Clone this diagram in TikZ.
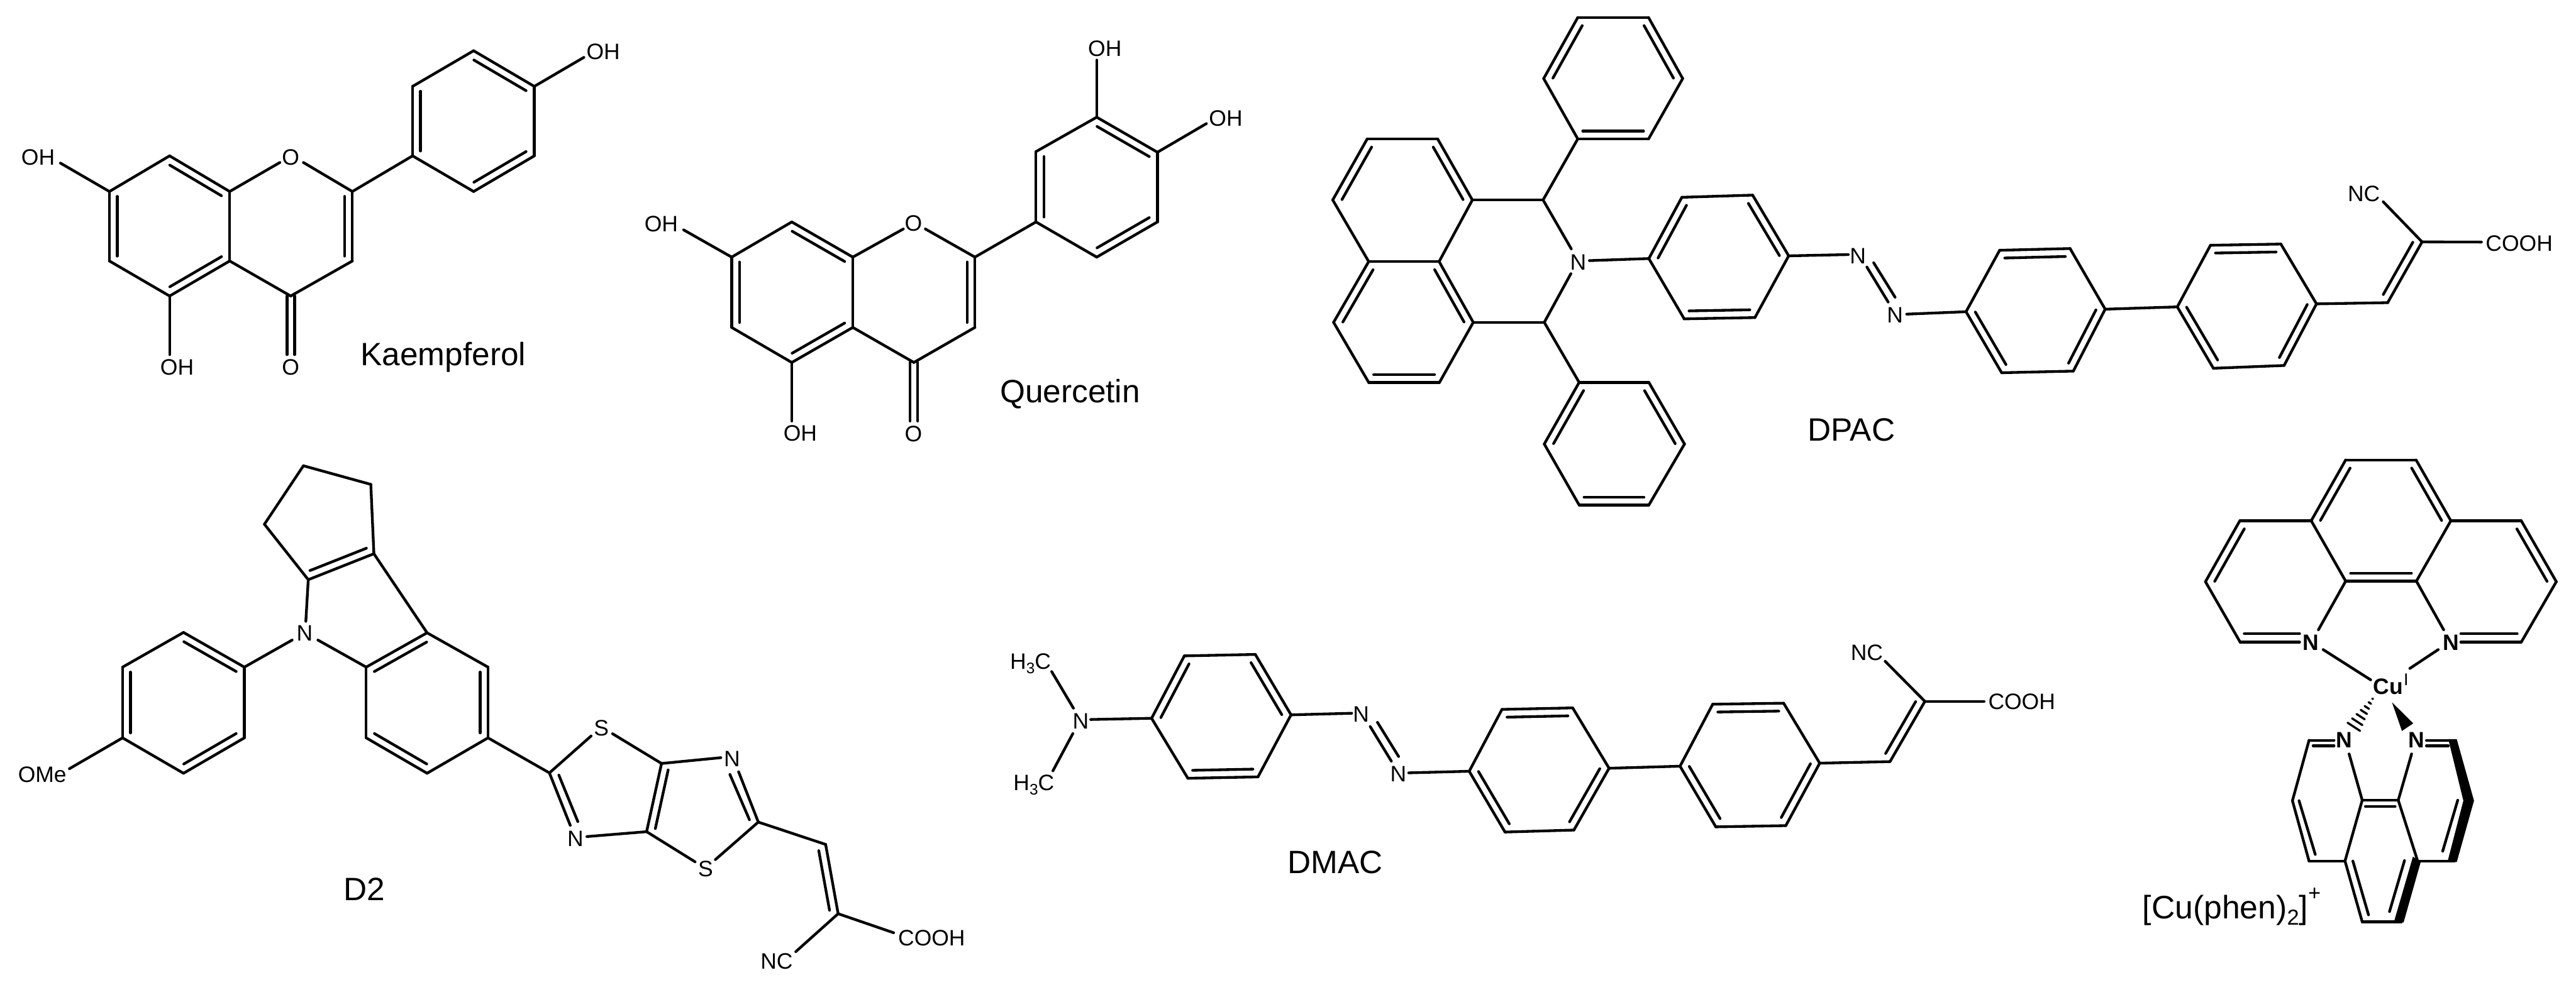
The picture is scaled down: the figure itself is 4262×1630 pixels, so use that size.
\documentclass[tikz,border=0pt]{standalone}
\usepackage{fontspec}
\usepackage{graphicx}
\setmainfont{Liberation Sans}
\usetikzlibrary{calc}
\newcommand\pts[1]{\foreach \n/\x/\y in {#1}{\coordinate (\n) at (\x,\y);}}
\newcommand\bonds[1]{\foreach \a/\b in {#1}{\draw[bond] (\a)--(\b);}}
\newcommand\dbls[1]{\foreach \a/\b in {#1}{\draw[bond] (\a)--(\b);
  \draw[bond] ($(\a)!0.07!(\b)!0.13cm!90:(\b)$) -- ($(\b)!0.07!(\a)!0.13cm!-90:(\a)$);}}
\newcommand\subthree{\raisebox{-2.2pt}{\fontsize{7.2}{8}\selectfont 3}}
\tikzset{
  bond/.style={line width=0.045cm,line cap=round,line join=round,black},
  atom/.style={font=\fontsize{10.5}{12}\selectfont,inner sep=0pt,text=black},
  metal/.style={font=\fontsize{10.5}{12}\selectfont\bfseries,inner sep=0pt,text=black},
  formula/.style={font=\fontsize{10.5}{12}\selectfont,inner sep=0pt,anchor=base west,text=black},
  title/.style={font=\fontsize{15.2}{18}\selectfont,inner sep=0pt,anchor=base west,text=black},
  solidpart/.style={fill=black,draw=none}
}
\begin{document}
\begin{tikzpicture}[x=0.01cm,y=-0.01cm]
\useasboundingbox (0,0) rectangle (4262,1630);
\fill[white] (0,0) rectangle (4262,1630);

% ---------- Kaempferol
\pts{ka/280.6/258,kb/181/317,kc/181/432,kd/280.6/490,ke/380/432,kf/380/317,
 kg/583/317,kh/583/432,ki/481/490,
 kol/463/269,kor/502/269,
 kj1/682.6/258,kj2/682.6/143,kj3/783.6/84,kj4/884/143,kj5/884/258,kj6/783.6/317,
 kc1/475/490,kc2/475/587,kc3/487.5/490,kc4/487.5/587,
 koh1/280.6/587,koh2/100/270,koh3/966/95}
\bonds{ka/kb,kc/kd,ke/kf,kf/kol,kor/kg,kh/ki,ki/ke,kg/kj1,kj2/kj3,kj4/kj5,kj6/kj1,
 kc1/kc2,kc3/kc4,kd/koh1,kb/koh2,kj4/koh3}
\dbls{kf/ka,kb/kc,kd/ke,kh/kg,kj2/kj1,kj6/kj5,kj4/kj3}
\node[atom] (klo) at (481,260) {O};
\node[atom] (klc) at (481,608) {O};
\node[atom] (kl1) at (293,608) {OH};
\node[atom] (kl2) at (63,260) {OH};
\node[atom] (kl3) at (998,86) {OH};
\node[title] (kname) at (596,605) {Kaempferol};

% ---------- Quercetin
\pts{qa/1310/367.4,qb/1210.5/425.6,qc/1210.5/542,qd/1310/600,qe/1411/542,qf/1411/425.6,
 qg/1613/425.6,qh/1613/542,qi/1512/600,
 qol/1494.6/379,qor/1531/379,
 qj1/1714/367.4,qj2/1714/251,qj3/1814.5/194,qj4/1915/252,qj5/1915/367.4,qj6/1814.5/425.6,
 qc1/1505.8/600,qc2/1505.8/697,qc3/1518.4/600,qc4/1518.4/697,
 qoh1/1310/697,qoh2/1131/380.5,qoh3/1814.5/99.4,qoh4/1996/204.6}
\bonds{qa/qb,qc/qd,qe/qf,qf/qol,qor/qg,qh/qi,qi/qe,qg/qj1,qj2/qj3,qj4/qj5,qj6/qj1,
 qc1/qc2,qc3/qc4,qd/qoh1,qb/qoh2,qj3/qoh3,qj4/qoh4}
\dbls{qf/qa,qb/qc,qd/qe,qh/qg,qj2/qj1,qj6/qj5,qj4/qj3}
\node[atom] (qlo) at (1511.4,370) {O};
\node[atom] (qlc) at (1511.4,718) {O};
\node[atom] (ql1) at (1324,717) {OH};
\node[atom] (ql2) at (1094,371) {OH};
\node[atom] (ql3) at (1828,80) {OH};
\node[atom] (ql4) at (2028,196) {OH};
\node[title] (qname) at (1654,666.5) {Quercetin};

% ---------- DPAC
\pts{p1/2610.4/29,p2/2727.5/29,p3/2784/130,p4/2727.5/230,p5/2610.4/230,p6/2554/130,
 n1/2262/230,n2/2378.6/230,n3/2436/331,n4/2381/433,n5/2264.5/433,n6/2205/331,
 m2/2437.5/533.6,m3/2381.6/633,m4/2264.5/633,m5/2206.4/533.6,
 ct/2553/331,cb/2555/533.6,ntop/2599.7/412,nbot/2599/453,nrt/2629.6/431.4,
 q1/2612.7/633,q2/2728/633,q3/2787/735,q4/2728/836,q5/2612.7/836,q6/2555/735,
 r1/2728/428,r2/2782.6/326.6,r3/2899.7/323,r4/2959.4/423.5,r5/2903.5/525.7,r6/2786.5/527.8,
 az1/3058/421.4,az2/3088.7/442,az3/3124/500,az4/3100/435,az5/3135.4/492,az6/3154.6/520,
 s1/3252.8/516,s2/3308.4/414.3,s3/3424.9/411.4,s4/3483/511.8,s5/3430.3/614.3,s6/3311.7/617,
 u1/3602.3/508,u2/3657.2/406,u3/3773.7/404,u4/3832.6/503,u5/3779/605,u6/3662/609.6,
 v1/3950.4/501,v2/4007.3/400.4,vc/4105.5/400.7,vn/3943/334}
\bonds{p1/p2,p3/p4,p5/p6,n1/n2,n3/n4,n5/n6,n4/n5,m2/m3,m4/m5,n3/ct,ct/p5,ct/ntop,cb/nbot,cb/m2,
 cb/q1,q1/q2,q3/q4,q5/q6,nrt/r1,r2/r3,r4/r5,r6/r1,r4/az1,az2/az3,az4/az5,az6/s1,
 s2/s1,s3/s4,s5/s6,s4/u1,u2/u1,u3/u4,u5/u6,u4/v1,v2/vc,v2/vn}
\dbls{p1/p6,p5/p4,p3/p2,n1/n6,n3/n2,n5/m5,m4/m3,m2/n4,q1/q6,q5/q4,q3/q2,r2/r1,r6/r5,r4/r3,
 s3/s2,s1/s6,s5/s4,u3/u2,u1/u6,u5/u4,v1/v2}
\node[atom] (dn1) at (2611,434) {N};
\node[atom] (dn2) at (3074,423.5) {N};
\node[atom] (dn3) at (3135.4,521.4) {N};
\node[atom] (dnc) at (3911,320.7) {NC};
\node[atom] (dco) at (4168,403) {COOH};
\node[title] (dname) at (2990,729.5) {DPAC};

% ---------- D2
\pts{ta/502/771,tb/613.5/801.8,tc/618.6/916.6,td/510/959.6,te/437.5/867.8,
 tn1/506/1028.5,tn2/526/1059.5,tn3/483.4/1059.5,
 tf/706.6/1047.5,tg/807.4/1104.3,th/807.4/1221.4,ti/706.6/1280,tj/605.9/1221.4,tk/605.9/1104.3,
 tl/404.3/1104.3,tm/303.6/1046.9,tnn/202.8/1104.3,to/202.8/1221.4,tpp/303.6/1280,tq/404.3/1221.4,
 tome/114.8/1272.5,
 tr/909/1279.4,trs/978/1218.3,tsa/1013.5/1214.6,ts/1094.5/1263.8,tsn/1192.6/1254.2,
 tnb/1222/1277.5,tt/1254.6/1360.8,tni/1207.6/1282,tnj/1240/1357,
 tts/1183.5/1423,tsu/1150/1426.6,tu/1069.8/1376.7,tun/971/1384.8,
 trn/943.5/1366.3,tri/924.6/1283,trj/956/1360,
 tv/1366/1397.8,tw/1386.7/1512.5,twc/1478.5/1544,twn/1316.6/1575.3}
\bonds{ta/tb,tb/tc,td/te,te/ta,td/tn1,tc/tf,tn2/tk,tn3/tl,tf/tg,th/ti,tj/tk,
 tm/tnn,to/tpp,tq/tl,to/tome,th/tr,tr/trs,tsa/ts,ts/tsn,tnb/tt,tni/tnj,tt/tts,tsu/tu,tu/tun,
 tr/trn,tri/trj,tt/tv,tw/twc,tw/twn}
\dbls{td/tc,tf/tk,tj/ti,th/tg,tnn/to,tpp/tq,tl/tm,ts/tu,tw/tv}
\node[atom] (tln) at (504,1048.6) {N};
\node[atom] (tlo) at (70,1282) {OMe};
\node[atom] (tls1) at (995,1205.4) {S};
\node[atom] (tln2) at (1211,1255.7) {N};
\node[atom] (tls2) at (1167.4,1438.5) {S};
\node[atom] (tln3) at (952,1388.5) {N};
\node[atom] (tlc) at (1541.4,1553) {COOH};
\node[atom] (tlnc) at (1285,1591) {NC};
\node[title] (tname) at (567.6,1490.6) {D2};

% ---------- DMAC
\pts{bn1/1740/1111.7,bn2/1776/1172.3,bn3/1742/1276,bn4/1775/1214.3,bn5/1804.5/1191,
 a1/1905.3/1189,a2/1959.5/1085.7,a3/2076.9/1083.3,a4/2136/1183.3,a5/2081.3/1286,a6/1965.3/1288.3,
 bz1/2236.3/1180.7,bz2/2267/1202.7,bz3/2302/1260,bz4/2279/1195.7,bz5/2314/1252.3,bz6/2330.7/1279.3,
 c1/2430.8/1276.7,c2/2485/1174.3,c3/2602/1171.8,c4/2662.2/1271.7,c5/2604/1374,c6/2490/1377.3,
 e1/2779.6/1268.3,e2/2833.7/1165.7,e3/2951/1164,e4/3010.7/1263.3,e5/2954.6/1366.7,e6/2838.8/1368.7,
 w1/3127/1260.7,w2/3184.7/1161,wc/3282.7/1161,wn/3119/1094.7}
\bonds{bn1/bn2,bn3/bn4,bn5/a1,a2/a3,a4/a5,a6/a1,a4/bz1,bz2/bz3,bz4/bz5,bz6/c1,
 c2/c1,c3/c4,c5/c6,c4/e1,e2/e1,e3/e4,e5/e6,e4/w1,w2/wc,w2/wn}
\dbls{a2/a1,a6/a5,a4/a3,c3/c2,c1/c6,c5/c4,e3/e2,e1/e6,e5/e4,w1/w2}
\node[atom] (bln) at (1788,1193.3) {N};
\node[formula] (blh1) at (1670.6,1107.3) {H\subthree C};
\node[formula] (blh2) at (1676,1308) {H\subthree C};
\node[atom] (bl2) at (2252,1182.7) {N};
\node[atom] (bl3) at (2313.5,1281.7) {N};
\node[atom] (blc) at (3345,1161.7) {COOH};
\node[atom] (blnc) at (3088.7,1080.7) {NC};
\node[title] (bname) at (2129.8,1446) {DMAC};

% ---------- [Cu(phen)2]+ upper ligand
\pts{x1/3880.9/761.4,x2/3997.4/761.4,x3/4054.9/862,x4/3997.9/962,x5/3880.9/962,x6/3823.9/862,
 y1/3705.8/862,y2/3648.9/962.9,y3/3706.3/1062.9,y4/3804.7/1062.9,y5/3713/1049,y6/3804.7/1049,y7/3835.8/1042.5,
 z1/4171.4/862,z2/4229.4/962.9,z3/4171.4/1062.9,z4/4071.4/1062.9,z5/4071.4/1049,z6/4164.7/1049,z7/4043/1042.5,
 l1/3843.6/1075.3,l2/3922.3/1125.4,l3/4034/1075.3,l4/3987/1106.5}
\bonds{x1/x2,x3/x4,x5/x6,x6/y1,y2/y3,y3/y4,y5/y6,x5/y7,x3/z1,z2/z3,z3/z4,z5/z6,x4/z7,l1/l2,l3/l4}
\dbls{x1/x6,x5/x4,x3/x2,y1/y2,z2/z1}
% wedges
\coordinate (hT) at (3927.5,1153.8);
\coordinate (hL) at (3884,1196.3);
\coordinate (hR) at (3904.7,1209.8);
\foreach \t in {0.06,0.2,0.35,0.5,0.66,0.83,1}{
  \draw[line width=0.035cm,line cap=round] ($(hT)!\t!(hL)$) -- ($(hT)!\t!(hR)$);}
\fill[solidpart] (3957.5,1162.5) -- (3992.7,1197.4) -- (3974,1210) -- cycle;
% lower ligand
\pts{f1/3820.3/1225.4,f2/3792.8/1325.4,f3/3820.3/1425.3,f4/3879.8/1425.3,f5/3861.7/1225.4,
 f6/3827/1234.5,f7/3861.7/1234.5,f8/3803.7/1325.4,f9/3830.6/1414.4,
 g1/3908.3/1324.6,g2/3967.9/1324.6,g3/3913.5/1335,g4/3962.7/1335,
 g5/3886.6/1248,g6/3990/1248,
 g7/3908.3/1526,g8/3973/1526,g9/3892.8/1425.3,g10/3918.7/1514.4,
 h1/3978.2/1424.6,h2/3953.4/1509,h3/4000/1425.3,h4/4061/1425.3,
 h5/4014.5/1225.4,h6/4050.7/1225.4,h7/4014.5/1234.5,h8/4050.7/1234.5,h9/4066.3/1324.6,h10/4041.4/1409}
\bonds{f1/f5,f6/f7,f1/f2,f2/f3,f8/f9,f3/f4,g1/g2,g3/g4,g5/g1,g6/g2,g1/f4,g2/h3,f4/g7,g9/g10,g7/g8,h1/h2,h3/h4,h5/h6,h7/h8,h9/h10}
\fill[solidpart] (4050.7,1223.6) -- (4064.7,1223.6) -- (4093.2,1325.4) -- (4064.7,1427) -- (4049.7,1425.3) -- (4075.6,1325.4) -- cycle;
\fill[solidpart] (3992.2,1418) -- (4005,1427) -- (3976.7,1527) -- (3961,1525.3) -- cycle;
\node[metal] (cn1) at (3822.9,1064) {N};
\node[metal] (cn2) at (4054.9,1064) {N};
\node[metal] (cn3) at (3878.8,1225.4) {N};
\node[metal] (cn4) at (3997.9,1225.4) {N};
\node[metal] (ccu) at (3951.3,1136.3) {Cu};
\node[atom,font=\fontsize{8}{9}\selectfont] (cci) at (3981,1124.7) {I};
\node[title,font=\fontsize{15.3}{18}\selectfont] (cname) at (3544,1521) {[Cu(phen)\raisebox{-2.8pt}{\fontsize{10.2}{12}\selectfont 2}]\raisebox{8.8pt}{\fontsize{10.2}{12}\selectfont +}};
\end{tikzpicture}
\end{document}
